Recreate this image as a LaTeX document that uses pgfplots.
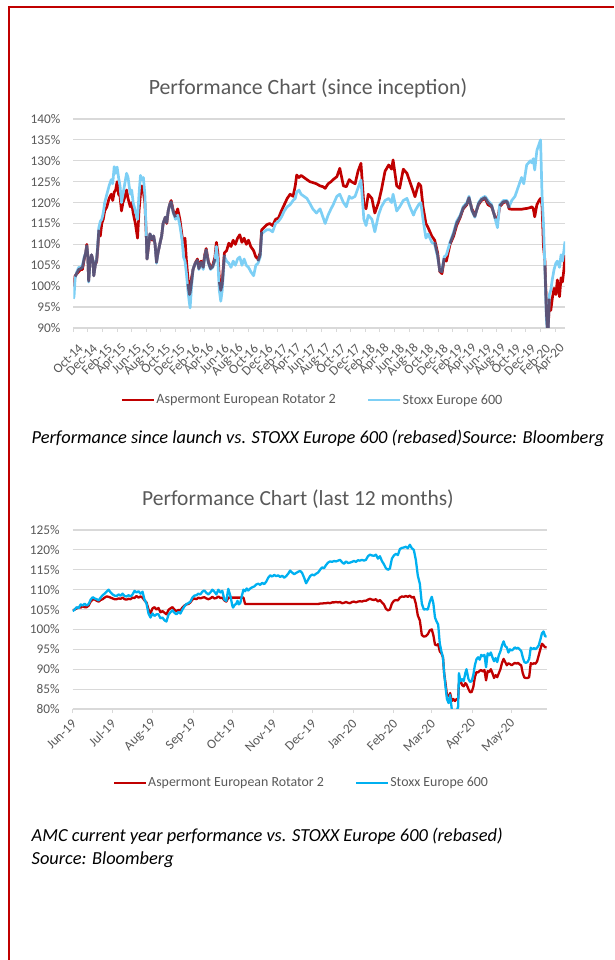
\documentclass[border=0pt]{standalone}
\usepackage{pgfplots}
\pgfplotsset{compat=1.18}
\usepackage{pgfplotstable}
\usepackage{fontspec}
\setmainfont{Carlito}
\definecolor{fundred}{RGB}{192,0,0}
\definecolor{lblue}{RGB}{125,207,245}
\definecolor{slate}{RGB}{92,84,120}
\definecolor{sblue}{RGB}{0,176,240}
\definecolor{gridgrey}{RGB}{217,217,217}
\definecolor{textgrey}{RGB}{89,89,89}

\pgfplotstableread{
t R B S
0.00 100.0 97.0 nan
0.10 100.5 97.5 nan
0.25 102.5 102.0 102.3
0.50 103.0 103.5 103.2
0.75 103.5 104.5 104.0
1.00 104.0 104.5 104.2
1.25 104.0 105.0 104.5
1.50 106.5 107.0 106.7
1.70 108.0 108.0 108.0
1.85 110.0 109.5 109.7
2.00 107.0 107.0 107.0
2.10 101.5 101.0 101.2
2.30 106.0 106.0 106.0
2.50 107.5 107.5 107.5
2.70 106.0 106.0 106.0
2.80 102.5 102.5 102.5
3.00 105.0 105.0 105.0
3.20 106.0 106.5 106.2
3.35 109.0 110.0 109.5
3.50 113.0 114.0 113.5
3.70 112.0 115.5 nan
3.90 115.0 116.0 nan
4.10 116.0 117.5 nan
4.30 118.0 120.0 nan
4.60 119.0 122.0 nan
4.90 121.0 124.0 nan
5.20 122.0 125.5 nan
5.40 120.5 124.5 nan
5.60 122.5 128.6 nan
5.80 123.0 127.0 nan
6.00 125.0 128.5 nan
6.20 122.0 126.0 nan
6.40 121.5 124.0 nan
6.60 118.0 120.0 nan
6.80 120.0 122.0 nan
7.00 121.0 124.0 nan
7.30 123.0 127.0 nan
7.50 121.0 126.0 nan
7.80 119.0 122.0 nan
8.00 120.0 123.0 nan
8.20 117.5 120.0 nan
8.50 115.0 118.0 nan
8.80 111.5 116.0 nan
9.00 118.0 122.0 nan
9.20 122.0 126.5 nan
9.40 124.0 125.5 nan
9.60 122.5 126.0 nan
9.80 120.0 122.0 nan
10.00 112.0 112.0 112.0
10.10 106.5 106.5 106.5
10.30 109.5 110.0 109.7
10.50 112.5 112.5 112.5
10.80 111.0 111.5 111.2
11.00 112.0 112.0 112.0
11.20 110.0 110.0 110.0
11.40 106.0 105.5 105.7
11.60 108.0 108.0 108.0
11.90 110.5 110.5 110.5
12.10 112.0 112.0 112.0
12.30 115.0 115.0 115.0
12.60 116.5 116.5 116.5
12.80 115.0 115.5 115.2
13.00 118.0 118.0 118.0
13.20 119.5 119.5 119.5
13.40 120.5 120.0 120.2
13.70 118.0 117.5 117.7
14.00 117.0 116.0 116.5
14.30 118.5 117.0 nan
14.60 116.0 114.5 nan
14.90 112.0 111.0 111.5
15.10 110.0 107.0 nan
15.30 111.5 106.0 nan
15.50 106.0 103.0 nan
15.70 102.0 99.0 100.5
15.90 99.0 96.0 98.0
16.00 98.5 94.8 98.4
16.20 102.0 100.0 101.0
16.40 104.0 104.0 104.0
16.70 105.5 105.5 105.5
17.00 106.5 106.0 106.2
17.20 104.5 104.0 104.2
17.50 106.0 105.5 105.7
17.80 105.0 104.0 104.5
18.00 107.5 107.0 107.2
18.20 109.0 108.5 108.7
18.50 106.0 105.5 105.7
18.80 104.5 104.0 104.2
19.10 105.0 104.5 104.7
19.40 107.0 106.0 106.5
19.60 110.5 109.5 nan
19.80 108.0 106.0 nan
20.00 102.0 99.0 101.0
20.20 99.2 96.4 99.0
20.40 101.0 99.0 100.5
20.70 108.0 107.0 107.5
21.00 108.5 106.0 nan
21.30 110.3 105.5 nan
21.60 109.5 104.5 nan
21.90 111.0 106.0 nan
22.20 110.0 105.0 nan
22.50 111.5 106.5 nan
22.80 112.3 107.0 nan
23.10 110.5 105.0 nan
23.40 111.5 106.5 nan
23.70 110.0 105.0 nan
24.00 111.0 104.5 nan
24.30 109.5 103.5 nan
24.70 108.5 102.5 nan
25.00 107.0 105.0 nan
25.30 106.5 105.5 106.0
25.60 108.0 107.0 107.5
25.80 113.5 112.5 113.0
26.10 114.0 113.0 nan
26.50 114.7 113.5 nan
26.90 115.0 113.5 nan
27.30 114.5 113.0 nan
27.70 116.0 115.0 nan
28.10 116.3 115.5 nan
28.50 118.0 116.5 nan
28.90 119.5 118.0 nan
29.30 121.0 119.0 nan
29.70 122.0 119.5 nan
30.10 121.5 120.5 nan
30.40 124.0 121.0 nan
30.60 126.6 122.5 nan
30.90 126.0 123.0 nan
31.20 126.5 122.0 nan
31.60 126.0 121.5 nan
32.00 125.5 121.0 nan
32.40 125.0 119.8 nan
32.80 124.8 118.5 nan
33.30 124.5 117.5 nan
33.80 124.0 118.5 nan
34.20 123.8 116.5 nan
34.50 123.4 115.0 nan
34.90 124.5 117.0 nan
35.30 125.0 118.5 nan
35.60 125.5 119.5 nan
36.10 126.2 121.5 nan
36.50 128.2 122.0 nan
37.00 124.0 120.0 nan
37.40 123.8 119.0 nan
37.80 125.5 121.5 nan
38.10 125.0 121.0 nan
38.60 124.5 121.5 nan
39.00 127.5 123.5 nan
39.40 129.4 125.4 nan
39.80 119.5 116.0 nan
40.10 118.5 114.5 nan
40.40 122.0 117.0 nan
40.90 121.0 116.0 nan
41.30 117.5 113.0 nan
41.80 120.0 117.0 nan
42.20 123.0 119.0 nan
42.70 127.5 120.5 nan
43.20 129.0 121.0 nan
43.60 128.0 120.0 nan
43.80 130.2 122.0 nan
44.30 124.0 118.0 nan
44.70 123.4 119.0 nan
45.20 128.0 120.5 nan
45.70 127.0 121.0 nan
46.10 125.0 119.0 nan
46.60 122.5 117.0 nan
46.80 121.4 118.0 nan
47.30 124.6 119.5 nan
47.60 124.0 120.0 nan
47.90 119.0 116.0 nan
48.30 115.0 111.5 nan
48.60 114.0 112.5 nan
49.10 112.0 110.5 nan
49.50 111.0 110.0 110.5
49.90 108.0 107.0 107.5
50.20 103.5 103.8 103.6
50.50 103.0 104.0 103.5
50.80 106.5 107.0 106.7
51.10 106.0 107.5 nan
51.60 110.0 110.5 110.2
52.10 112.0 113.0 112.5
52.50 114.5 115.5 115.0
53.00 116.5 117.0 116.7
53.40 118.5 119.0 118.7
53.90 119.5 120.0 119.7
54.20 121.0 121.5 121.2
54.60 118.5 118.0 118.2
55.00 117.0 116.5 116.7
55.50 119.5 120.0 119.7
55.90 120.5 121.0 120.7
56.40 121.0 121.5 121.2
56.80 119.5 120.5 120.0
57.30 119.0 119.5 119.2
57.80 116.5 116.0 116.2
58.10 115.5 114.0 nan
58.40 119.0 119.5 119.2
58.90 120.0 120.5 120.2
59.40 120.2 120.5 120.3
59.70 118.5 119.0 118.7
60.05 118.4 120.5 nan
60.50 118.4 121.5 nan
61.00 118.4 124.0 nan
61.40 118.4 126.0 nan
61.70 118.5 124.5 nan
62.10 118.6 129.0 nan
62.60 118.8 130.0 nan
62.80 119.0 129.5 nan
63.00 118.6 130.5 nan
63.20 116.6 127.8 nan
63.50 119.5 132.5 nan
63.80 120.5 134.0 nan
64.00 121.0 135.0 nan
64.20 119.5 122.0 nan
64.40 109.5 115.0 nan
64.60 106.0 104.0 105.0
64.80 95.0 92.0 93.5
65.00 88.0 88.0 88.0
65.20 96.0 98.0 97.0
65.40 94.2 99.0 nan
65.60 97.0 101.5 nan
65.85 99.5 104.0 nan
66.10 98.0 105.5 nan
66.30 101.5 106.0 nan
66.60 97.5 104.5 nan
66.80 102.0 107.5 nan
67.00 101.0 106.0 nan
67.20 104.0 108.5 nan
67.35 107.5 110.7 nan
}\dataA

\pgfplotstableread{
t R B
0.00 104.8 104.6
0.05 105.0 105.0
0.10 105.3 105.6
0.15 105.5 105.4
0.20 105.5 106.3
0.25 105.8 106.0
0.30 105.6 106.5
0.35 105.6 106.0
0.40 106.0 106.4
0.45 107.0 107.5
0.50 107.5 108.1
0.55 107.6 107.8
0.60 107.2 107.6
0.65 107.0 107.3
0.70 107.4 108.0
0.75 107.6 108.6
0.80 108.0 109.0
0.85 108.3 109.5
0.90 108.2 110.0
0.95 108.0 109.3
1.00 107.8 108.8
1.05 107.6 108.5
1.10 107.6 108.4
1.15 107.8 108.8
1.20 107.7 108.5
1.25 108.0 109.0
1.30 107.6 108.4
1.35 107.5 108.3
1.40 107.7 108.6
1.45 107.6 108.3
1.50 108.0 108.8
1.55 107.9 109.7
1.60 108.4 109.3
1.65 108.0 109.6
1.70 108.3 109.0
1.75 108.0 109.5
1.80 107.3 107.5
1.85 106.8 106.5
1.90 105.0 104.0
1.95 104.0 103.0
2.00 105.3 104.0
2.05 105.6 103.4
2.10 105.0 103.8
2.15 105.4 103.8
2.20 104.3 102.8
2.25 104.6 103.0
2.30 104.2 102.3
2.35 103.8 102.0
2.40 104.9 103.7
2.45 105.3 104.3
2.50 105.6 104.8
2.55 105.0 104.2
2.60 104.6 103.8
2.65 104.9 104.4
2.70 104.8 104.0
2.75 105.5 105.0
2.80 106.0 105.8
2.85 106.3 106.4
2.90 106.4 106.6
2.95 106.8 107.0
3.00 107.5 108.0
3.05 107.8 108.5
3.10 107.6 108.6
3.15 108.0 109.0
3.20 107.8 108.8
3.25 108.0 109.5
3.30 108.1 109.8
3.35 107.8 109.2
3.40 107.6 108.8
3.45 107.8 109.3
3.50 108.2 110.0
3.55 107.8 109.5
3.60 107.9 108.8
3.65 108.3 110.0
3.70 107.9 109.3
3.75 108.0 109.7
3.80 107.3 107.5
3.85 107.0 107.2
3.90 108.0 110.2
3.95 108.0 108.5
4.00 108.0 106.0
4.02 108.0 105.5
4.05 108.0 106.0
4.10 108.0 106.5
4.13 108.0 107.2
4.16 108.0 106.3
4.20 108.0 106.6
4.24 108.0 108.5
4.28 108.0 110.0
4.32 106.4 109.6
4.36 106.4 110.3
4.40 106.4 109.8
4.45 106.4 110.3
4.50 106.4 110.6
4.55 106.4 110.8
4.60 106.4 111.3
4.65 106.4 111.5
4.70 106.4 111.2
4.75 106.4 111.7
4.80 106.4 111.4
4.85 106.4 112.0
4.90 106.4 113.0
4.95 106.4 113.6
5.00 106.4 113.3
5.05 106.4 113.7
5.10 106.4 113.4
5.15 106.4 113.6
5.20 106.4 113.2
5.25 106.4 113.5
5.30 106.4 113.0
5.35 106.4 113.4
5.40 106.4 114.0
5.45 106.4 114.8
5.50 106.4 114.3
5.55 106.4 113.9
5.60 106.4 114.2
5.65 106.4 114.5
5.70 106.4 114.7
5.75 106.4 114.2
5.80 106.4 113.0
5.85 106.4 111.6
5.90 106.4 112.5
5.95 106.4 113.4
6.00 106.4 113.8
6.05 106.4 113.6
6.10 106.4 114.0
6.15 106.4 114.3
6.20 106.5 115.0
6.25 106.5 115.6
6.30 106.6 115.4
6.35 106.6 116.2
6.40 106.7 116.8
6.45 106.6 117.1
6.50 106.8 117.0
6.55 106.8 117.2
6.60 106.9 117.1
6.65 106.8 117.3
6.70 106.9 117.5
6.75 106.6 116.9
6.80 106.7 116.5
6.85 106.9 117.1
6.90 106.7 116.7
6.95 106.6 116.8
7.00 106.9 117.0
7.05 107.0 117.2
7.10 106.8 117.0
7.15 107.0 117.4
7.20 107.1 117.3
7.25 107.0 117.5
7.30 107.2 117.3
7.35 107.2 117.5
7.40 107.5 118.4
7.45 107.7 118.8
7.50 107.5 118.6
7.55 107.4 118.5
7.60 107.6 118.8
7.65 107.0 117.8
7.70 107.4 118.4
7.75 106.8 117.2
7.80 106.3 116.4
7.85 105.2 115.4
7.90 104.8 115.0
7.95 105.0 115.3
8.00 106.5 117.8
8.05 107.2 118.6
8.10 107.4 119.0
8.15 107.3 118.7
8.20 108.0 120.2
8.25 108.3 120.5
8.30 108.2 120.6
8.35 108.4 120.8
8.40 108.2 120.4
8.45 108.5 121.3
8.50 108.0 120.4
8.55 108.2 120.0
8.60 106.5 117.5
8.65 103.5 113.5
8.70 102.3 111.5
8.75 98.6 106.5
8.80 98.2 105.0
8.85 98.3 105.1
8.90 98.8 105.0
8.95 99.8 107.0
9.00 100.0 108.2
9.04 98.5 106.5
9.08 96.2 103.0
9.12 96.0 102.0
9.16 96.3 101.2
9.20 94.5 96.5
9.24 94.0 94.5
9.28 93.0 93.0
9.31 89.0 89.0
9.35 86.0 85.0
9.38 83.5 82.5
9.42 83.2 81.5
9.46 84.0 83.5
9.50 82.0 80.0
9.54 82.5 78.5
9.58 82.0 79.0
9.62 82.5 79.5
9.66 82.5 80.5
9.68 86.5 89.0
9.72 87.2 87.0
9.76 86.0 87.5
9.80 85.7 87.0
9.84 86.5 89.0
9.87 86.2 90.0
9.92 85.0 87.5
9.96 84.2 86.8
10.00 84.3 87.0
10.04 85.5 88.5
10.08 88.0 91.0
10.12 89.3 92.5
10.16 89.2 93.0
10.20 89.6 92.4
10.24 89.8 93.6
10.28 89.4 93.3
10.32 89.8 93.6
10.36 87.2 90.5
10.40 89.5 94.0
10.44 89.3 93.5
10.48 90.0 94.2
10.52 89.0 93.0
10.56 87.8 92.0
10.60 88.5 92.8
10.64 88.0 91.8
10.68 89.0 93.5
10.72 90.0 94.5
10.76 91.6 96.0
10.80 92.6 97.0
10.84 91.8 95.8
10.88 91.0 95.5
10.92 91.5 94.2
10.96 91.3 95.0
11.00 91.0 94.7
11.04 91.3 95.0
11.08 91.6 95.5
11.12 91.4 95.2
11.16 91.6 95.4
11.20 91.2 95.0
11.24 91.0 94.6
11.28 89.0 93.0
11.32 87.9 91.8
11.36 87.8 91.6
11.40 87.8 91.8
11.44 88.0 92.6
11.48 91.5 95.4
11.52 91.3 95.0
11.56 91.5 95.3
11.60 91.4 95.0
11.64 92.0 95.4
11.68 93.5 96.0
11.72 95.0 97.4
11.76 96.4 99.0
11.80 96.0 99.5
11.84 95.5 98.3
11.88 95.5 98.2
}\dataB

\pgfplotsset{
  perfaxis/.style={
    scale only axis,
    axis x line*=bottom,
    axis y line*=left,
    y axis line style={draw=none},
    x axis line style={draw=gridgrey, line width=1.2pt, -},
    ymajorgrids,
    grid style={draw=gridgrey, line width=1.2pt},
    tick align=outside,
    major tick length=4pt,
    xtick style={draw=gridgrey, line width=1pt},
    ytick style={draw=none},
    ticklabel style={font=\fontsize{13.3}{14}\selectfont, text=textgrey},
    yticklabel style={anchor=east, inner sep=0pt, xshift=-8.8pt},
    legend columns=2,
    legend cell align=left,
    legend style={draw=none, fill=none, anchor=center,
      font=\fontsize{14.2}{16}\selectfont, text=textgrey,
      nodes={inner sep=1pt},
      /tikz/every even column/.append style={column sep=30pt}},
    legend image code/.code={\draw[##1, line cap=butt] (0pt,0pt) -- (32pt,0pt);},
    unbounded coords=jump,
  }
}

\begin{document}
\begin{tikzpicture}
\useasboundingbox (0pt,0pt) rectangle (614pt,960pt);

% ---------- Chart 1 ----------
\begin{axis}[perfaxis,
  width=491.7pt, height=209pt,
  at={(73.3pt,632pt)}, anchor=south west,
  xmin=0, xmax=67.35, ymin=90, ymax=140,
  xticklabel style={xshift=7.5pt, yshift=-14.3pt, rotate=45, anchor=east, inner sep=0pt},
  xtick={0,2,...,66},
  xticklabels={Oct-14,Dec-14,Feb-15,Apr-15,Jun-15,Aug-15,Oct-15,Dec-15,Feb-16,Apr-16,Jun-16,Aug-16,Oct-16,Dec-16,Feb-17,Apr-17,Jun-17,Aug-17,Oct-17,Dec-17,Feb-18,Apr-18,Jun-18,Aug-18,Oct-18,Dec-18,Feb-19,Apr-19,Jun-19,Aug-19,Oct-19,Dec-19,Feb-20,Apr-20},
  ytick={90,95,100,105,110,115,120,125,130,135,140},
  yticklabels={90\%,95\%,100\%,105\%,110\%,115\%,120\%,125\%,130\%,135\%,140\%},
  legend style={at={(0.4855,-0.3445)}},
]
\addplot[fundred, line width=2.7pt, line join=round] table[x=t, y=R] {\dataA};
\addlegendentry{Aspermont European Rotator 2}
\addplot[lblue, line width=2.7pt, line join=round] table[x=t, y=B] {\dataA};
\addlegendentry{Stoxx Europe 600}
\addplot[slate, line width=2.7pt, line join=round, forget plot] table[x=t, y=S] {\dataA};
\end{axis}

% ---------- Chart 2 ----------
\begin{axis}[perfaxis,
  width=474pt, height=179pt,
  at={(72.7pt,251pt)}, anchor=south west,
  xmin=0, xmax=11.88, ymin=80, ymax=125,
  xticklabel style={xshift=1.5pt, yshift=-8.5pt, rotate=45, anchor=east, inner sep=0pt},
  xtick={0,0.9855,2.004,3.022,4.008,5.026,6.012,7.030,8.049,9.001,10.020,11.005},
  xticklabels={Jun-19,Jul-19,Aug-19,Sep-19,Oct-19,Nov-19,Dec-19,Jan-20,Feb-20,Mar-20,Apr-20,May-20},
  ytick={80,85,90,95,100,105,110,115,120,125},
  yticklabels={80\%,85\%,90\%,95\%,100\%,105\%,110\%,115\%,120\%,125\%},
  legend style={at={(0.4816,-0.4134)}, font=\fontsize{13.9}{16}\selectfont},
]
\addplot[fundred, line width=2.3pt, line join=round] table[x=t, y=R] {\dataB};
\addlegendentry{Aspermont European Rotator 2}
\addplot[sblue, line width=2.3pt, line join=round] table[x=t, y=B] {\dataB};
\addlegendentry{Stoxx Europe 600}
\end{axis}

% ---------- Titles and captions ----------
\node[anchor=base, inner sep=0pt, font=\fontsize{21.8}{24}\selectfont, text=textgrey] at (308pt,865.7pt) {Performance Chart (since inception)};
\node[anchor=base, inner sep=0pt, font=\fontsize{21.5}{24}\selectfont, text=textgrey] at (298pt,454.3pt) {Performance Chart (last 12 months)};
\node[anchor=base west, inner sep=0pt, font=\fontsize{18.4}{22}\selectfont\itshape] at (31.5pt,516pt) {Performance since launch vs. STOXX Europe 600 (rebased)Source: Bloomberg};
\node[anchor=base west, inner sep=0pt, font=\fontsize{18.4}{22}\selectfont\itshape] at (31.5pt,118.3pt) {AMC current year performance vs. STOXX Europe 600 (rebased)};
\node[anchor=base west, inner sep=0pt, font=\fontsize{18.4}{22}\selectfont\itshape] at (31.5pt,95.7pt) {Source: Bloomberg};

% ---------- Frame ----------
\draw[fundred, line width=2pt] (8.5pt,0pt) -- (8.5pt,952.5pt) -- (614pt,952.5pt);
\end{tikzpicture}
\end{document}
